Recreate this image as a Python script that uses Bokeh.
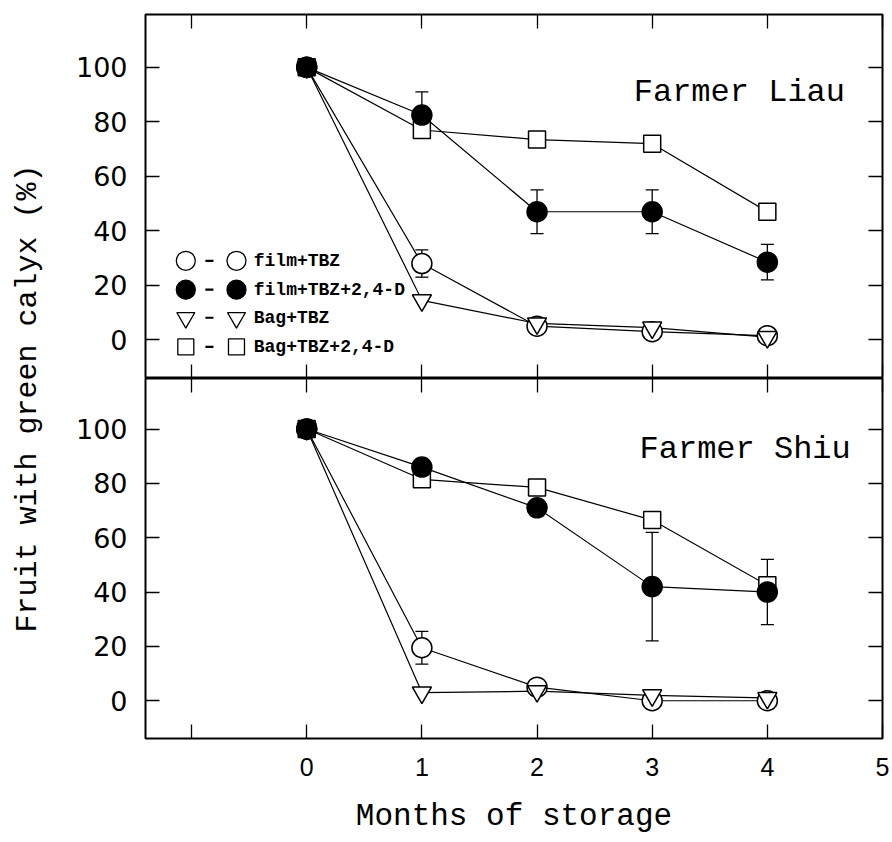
from math import pi
from bokeh.plotting import figure
from bokeh.models import Range1d, LinearAxis, FixedTicker, ColumnDataSource, Whisker, TeeHead, Label
from bokeh.layouts import row, column
from bokeh.embed import file_html
from bokeh.resources import INLINE
from bokeh.core.properties import value

# ---------------- data ----------------
months = [0, 1, 2, 3, 4]
series_names = ["film+TBZ", "film+TBZ+2,4-D", "Bag+TBZ", "Bag+TBZ+2,4-D"]

liau_film_tbz = [100, 28, 5, 3, 1.5]
liau_film_tbz_err = [0, 5, 0, 0, 0]
liau_film_tbz24d = [100, 82.5, 47, 47, 28.5]
liau_film_tbz24d_err = [0, 8.5, 8, 8, 6.5]
liau_bag_tbz = [100, 14.5, 6, 4.5, 1]
liau_bag_tbz24d = [100, 77, 73.5, 72, 47]

shiu_film_tbz = [100, 19.5, 5, 0, 0]
shiu_film_tbz_err = [0, 6, 0, 0, 0]
shiu_film_tbz24d = [100, 86, 71, 42, 40]
shiu_film_tbz24d_err = [0, 0, 0, 20, 12]
shiu_bag_tbz = [100, 3, 3.5, 2, 1]
shiu_bag_tbz24d = [100, 81.5, 78.5, 66.5, 42.5]

x_ticks = [-1, 0, 1, 2, 3, 4, 5]
y_ticks = [0, 20, 40, 60, 80, 100]

MONO = "Liberation Mono"


def tick_only(ax, ticks):
    ax.ticker = FixedTicker(ticks=ticks)
    ax.major_tick_in = 14
    ax.major_tick_out = 0
    ax.major_tick_line_width = 1.3
    ax.major_tick_line_color = "black"
    ax.minor_tick_line_color = None
    ax.axis_line_color = None
    ax.major_label_text_color = None
    ax.major_label_text_font_size = "0px"
    ax.major_label_standoff = 0


def style_axes(p, show_xlabels):
    p.grid.visible = False
    p.outline_line_color = "black"
    p.outline_line_width = 2
    p.background_fill_color = "white"
    p.border_fill_color = "white"
    ya = p.left[0]
    ya.ticker = FixedTicker(ticks=y_ticks)
    ya.major_tick_in = 14
    ya.major_tick_out = 0
    ya.major_tick_line_width = 1.3
    ya.minor_tick_line_color = None
    ya.axis_line_color = None
    ya.major_label_standoff = 18
    ya.major_label_text_font = "DejaVu Sans"
    ya.major_label_text_font_size = "27px"
    ya.major_label_text_color = "black"
    xa = p.below[0]
    if show_xlabels:
        xa.ticker = FixedTicker(ticks=x_ticks)
        xa.major_tick_in = 14
        xa.major_tick_out = 0
        xa.major_tick_line_width = 1.3
        xa.minor_tick_line_color = None
        xa.axis_line_color = None
        xa.major_label_overrides = {-1: ""}
        xa.major_label_text_font = "Liberation Sans Narrow, Liberation Sans"
        xa.major_label_text_font_size = "25px"
        xa.major_label_text_color = "black"
        xa.major_label_standoff = 19
    else:
        tick_only(xa, x_ticks)
    top = LinearAxis()
    tick_only(top, x_ticks)
    right = LinearAxis()
    tick_only(right, y_ticks)
    p.add_layout(top, "above")
    p.add_layout(right, "right")
    return xa


def draw_panel(p, film, film_err, film24, film24_err, bag, bag24):
    lw = 1.2
    for ys in (bag24, film, bag, film24):
        p.line(months, ys, line_color="black", line_width=lw)
    p.scatter(months, bag24, marker="square", size=17, fill_color="white", line_color="black", line_width=1.5)
    p.scatter(months, film, marker="circle", size=20, fill_color="white", line_color="black", line_width=1.5)
    p.scatter(months, bag, marker="inverted_triangle", size=19, fill_color="white", line_color="black", line_width=1.5)
    for ys, es in ((film, film_err), (film24, film24_err)):
        xs = [m for m, e in zip(months, es) if e > 0]
        up = [y + e for y, e in zip(ys, es) if e > 0]
        lo = [y - e for y, e in zip(ys, es) if e > 0]
        src = ColumnDataSource(dict(x=xs, upper=up, lower=lo))
        w = Whisker(base="x", upper="upper", lower="lower", source=src, line_width=1.3, line_color="black",
                    upper_head=TeeHead(size=13, line_width=1.3, line_color="black"),
                    lower_head=TeeHead(size=13, line_width=1.3, line_color="black"))
        p.add_layout(w)
    p.scatter(months, film24, marker="circle", size=20, fill_color="black", line_color="black", line_width=1.5)


x_range = Range1d(-1.4, 5.0)

# ---- top panel: Farmer Liau ----
p1 = figure(width=832, height=378, x_range=x_range, y_range=Range1d(-14.2, 119.4),
            output_backend="svg", toolbar_location=None,
            min_border_left=85, min_border_right=10, min_border_top=14, min_border_bottom=0)
style_axes(p1, show_xlabels=False)
draw_panel(p1, liau_film_tbz, liau_film_tbz_err, liau_film_tbz24d, liau_film_tbz24d_err,
           liau_bag_tbz, liau_bag_tbz24d)
p1.add_layout(Label(x=2.84, y=90.7, text="Farmer Liau", text_font=MONO, text_font_size="32px",
                    text_align="left", text_baseline="alphabetic", text_color="black"))

# legend key (layout positions in data units of the top panel)
leg_x_left, leg_x_right, leg_x_text = -1.05, -0.61, -0.46
leg_rows = [29.0, 18.4, 8.1, -2.6]
leg_markers = ["circle", "circle", "inverted_triangle", "square"]
leg_fills = ["white", "black", "white", "white"]
leg_sizes = [19, 19, 18, 16]
for name, yy, mk, fc, sz in zip(series_names, leg_rows, leg_markers, leg_fills, leg_sizes):
    p1.scatter([leg_x_left, leg_x_right], [yy, yy], marker=mk, size=sz, fill_color=fc,
               line_color="black", line_width=1.3)
    p1.segment(x0=[-0.88], y0=[yy], x1=[-0.81], y1=[yy], line_color="black", line_width=2.2)
    p1.text(x=[leg_x_text], y=[yy], text=[name], text_font=value(MONO), text_font_style="bold",
            text_font_size="18px", text_baseline="middle", text_align="left", text_color="black")

# ---- bottom panel: Farmer Shiu ----
p2 = figure(width=832, height=464, x_range=x_range, y_range=Range1d(-13.9, 118.6),
            output_backend="svg", toolbar_location=None,
            min_border_left=85, min_border_right=10, min_border_top=0, min_border_bottom=104)
xb = style_axes(p2, show_xlabels=True)
draw_panel(p2, shiu_film_tbz, shiu_film_tbz_err, shiu_film_tbz24d, shiu_film_tbz24d_err,
           shiu_bag_tbz, shiu_bag_tbz24d)
p2.add_layout(Label(x=2.89, y=92.6, text="Farmer Shiu", text_font=MONO, text_font_size="32px",
                    text_align="left", text_baseline="alphabetic", text_color="black"))
xb.axis_label = "Months of storage"
xb.axis_label_text_font = MONO
xb.axis_label_text_font_size = "31px"
xb.axis_label_text_font_style = "normal"
xb.axis_label_text_color = "black"
xb.axis_label_standoff = 20

# ---- shared y-axis title ----
pt = figure(width=60, height=842, x_range=Range1d(0, 60), y_range=Range1d(0, 842),
            x_axis_type=None, y_axis_type=None, output_backend="svg", toolbar_location=None,
            min_border_left=0, min_border_right=0, min_border_top=0, min_border_bottom=0)
pt.grid.visible = False
pt.outline_line_color = None
pt.add_layout(Label(x=27, y=444, text="Fruit with green calyx (%)", angle=pi / 2,
                    text_font=MONO, text_font_size="30px", text_align="center",
                    text_baseline="middle", text_color="black"))

layout = row(pt, column(p1, p2, spacing=0), spacing=0)

with open("out.html", "w") as f:
    f.write(file_html(layout, INLINE))
